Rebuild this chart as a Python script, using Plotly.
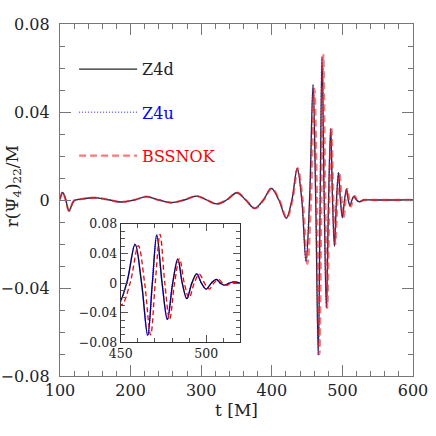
import plotly.graph_objects as go

# waveform samples (extrema + zero crossings), t in M
T_Z4D = [100, 103.8, 108.2, 112.7, 120, 130, 152, 170, 187, 205, 222.7, 240, 258, 276,
         293.6, 308, 322, 336, 350.7, 363, 375.8, 388, 399.3, 410, 420.5, 428.5, 436,
         442.5, 448.5, 453.5, 458.4, 462.2, 465.8, 468.5, 471.1, 474.2, 477.3, 480.4,
         483.4, 486, 488.7, 491.6, 494.5, 497.2, 500, 503, 505.9, 508.3, 510.7, 513.5,
         516.4, 520, 524, 530, 545, 600]
R_Z4D = [0.0003, 0.0035, 0.0, -0.0049, -0.0003, 0.0004, 0.001, 0.0, -0.0009, 0.0, 0.0015, 0.0, -0.0012, 0.0,
         0.0018, 0.0, -0.0018, 0.0, 0.0033, 0.0, -0.0038, 0.0, 0.0053, 0.0, -0.0083, 0.0, 0.0144,
         0.0, -0.028, 0.0, 0.0525, 0.0, -0.0705, 0.0, 0.065, 0.0, -0.049, 0.0,
         0.0325, 0.0, -0.021, 0.0, 0.0126, 0.0, -0.008, 0.0, 0.005, 0.0, -0.0027, 0.0,
         0.0018, 0.0, -0.0008, 0.0, 0.0, 0.0]

# Z4u lies on top of Z4d at this resolution
T_Z4U = list(T_Z4D)
R_Z4U = list(R_Z4D)

T_BSSN = [100, 103.8, 108.2, 112.7, 120, 130, 152, 170, 187, 205, 222.7, 240, 258, 276,
          293.6, 308, 322, 336, 351, 363.5, 376.3, 388.5, 400, 410.8, 421.2, 429.3, 436.8,
          443.8, 450.5, 455.5, 460.3, 464, 467.5, 470.2, 473, 475.8, 478.6, 481.5,
          484.4, 487.2, 490, 493, 496, 499, 501.8, 504.5, 507.2, 509.7, 512.1, 515,
          517.8, 521, 525.5, 531, 545, 600]
R_BSSN = [0.0003, 0.0035, 0.0, -0.0049, -0.0003, 0.0004, 0.001, 0.0, -0.0009, 0.0, 0.0015, 0.0, -0.0012, 0.0,
          0.0018, 0.0, -0.0018, 0.0, 0.0033, 0.0, -0.0038, 0.0, 0.0053, 0.0, -0.0083, 0.0, 0.0144,
          0.0, -0.029, 0.0, 0.0506, 0.0, -0.07, 0.0, 0.066, 0.0, -0.049, 0.0,
          0.033, 0.0, -0.02, 0.0, 0.012, 0.0, -0.008, 0.0, 0.005, 0.0, -0.003, 0.0,
          0.0017, 0.0, -0.0007, 0.0, 0.0, 0.0]

FONT = "DejaVu Serif"

fig = go.Figure()

# main panel
fig.add_trace(go.Scatter(x=T_Z4D, y=R_Z4D, mode="lines", line_shape="spline",
                         name="Z4d", legendgroup="a",
                         line=dict(color="rgba(0,0,0,0.85)", width=1.3)))
fig.add_trace(go.Scatter(x=T_Z4U, y=R_Z4U, mode="lines", line_shape="spline",
                         name="<span style='color:blue'>Z4u</span>", legendgroup="b",
                         line=dict(color="rgba(40,40,255,0.7)", width=1.5, dash="1px,2px")))
fig.add_trace(go.Scatter(x=T_BSSN, y=R_BSSN, mode="lines", line_shape="spline",
                         name="<span style='color:red'>BSSNOK</span>", legendgroup="c",
                         line=dict(color="rgba(255,30,30,0.6)", width=2.3, dash="7px,4px")))

# inset
fig.add_trace(go.Scatter(x=T_Z4D, y=R_Z4D, mode="lines", line_shape="spline", showlegend=False,
                         xaxis="x2", yaxis="y2", line=dict(color="black", width=1.3)))
fig.add_trace(go.Scatter(x=T_Z4U, y=R_Z4U, mode="lines", line_shape="spline", showlegend=False,
                         xaxis="x2", yaxis="y2", line=dict(color="rgba(0,0,255,0.8)", width=1.4, dash="1px,1px")))
fig.add_trace(go.Scatter(x=T_BSSN, y=R_BSSN, mode="lines", line_shape="spline", showlegend=False,
                         xaxis="x2", yaxis="y2", line=dict(color="red", width=1.3, dash="5px,3px")))

main_ax = dict(showline=True, linecolor="#777", linewidth=1.3, mirror="ticks", automargin=False,
               ticks="inside", ticklen=11, tickcolor="#777", tickwidth=1.2,
               showgrid=False, zeroline=False, tickfont=dict(family=FONT, size=16, color="#222"))
inset_ax = dict(showline=True, linecolor="#333", linewidth=1.2, mirror="ticks", automargin=False,
                ticks="inside", ticklen=7, tickcolor="#555", tickwidth=1,
                showgrid=False, zeroline=False, tickfont=dict(family=FONT, size=12.5, color="#222"))

fig.update_layout(
    width=436, height=436,
    margin=dict(l=60, r=23, t=24, b=60),
    paper_bgcolor="white", plot_bgcolor="white",
    xaxis=dict(main_ax, range=[100, 600], tick0=100, dtick=100,
               minor=dict(dtick=20, ticks="inside", ticklen=5, tickcolor="#777"),
               title=dict(text="t [M]", font=dict(family=FONT, size=17, color="#222"), standoff=4)),
    yaxis=dict(main_ax, range=[-0.08, 0.08], tick0=0, dtick=0.04, ticklabelstandoff=6,
               minor=dict(dtick=0.01, ticks="inside", ticklen=5, tickcolor="#777")),
    xaxis2=dict(inset_ax, domain=[0.172, 0.511], anchor="y2", range=[450, 520], tick0=450, dtick=50,
                minor=dict(dtick=10, ticks="inside", ticklen=4, tickcolor="#555")),
    yaxis2=dict(inset_ax, domain=[0.0957, 0.432], anchor="x2", range=[-0.08, 0.08], tick0=0, dtick=0.04,
                minor=dict(dtick=0.01, ticks="inside", ticklen=4, tickcolor="#555")),
    showlegend=True,
    legend=dict(x=0.04, y=0.92, xanchor="left", yanchor="top", bgcolor="rgba(0,0,0,0)",
                font=dict(family=FONT, size=16, color="#222"), itemwidth=58,
                traceorder="grouped", tracegroupgap=19.5),
    annotations=[dict(text="r(Ψ<sub>4</sub>)<sub>22</sub>/M", textangle=-90, xref="paper", yref="paper",
                      x=0, y=0.539, xanchor="center", yanchor="middle", xshift=-47, showarrow=False,
                      font=dict(family=FONT, size=17, color="#222"))],
)

# drop the default body margin so the figure fills the window exactly
fig.write_html("out.html", config={"displayModeBar": False},
               post_script="document.body.style.margin='0px';")
